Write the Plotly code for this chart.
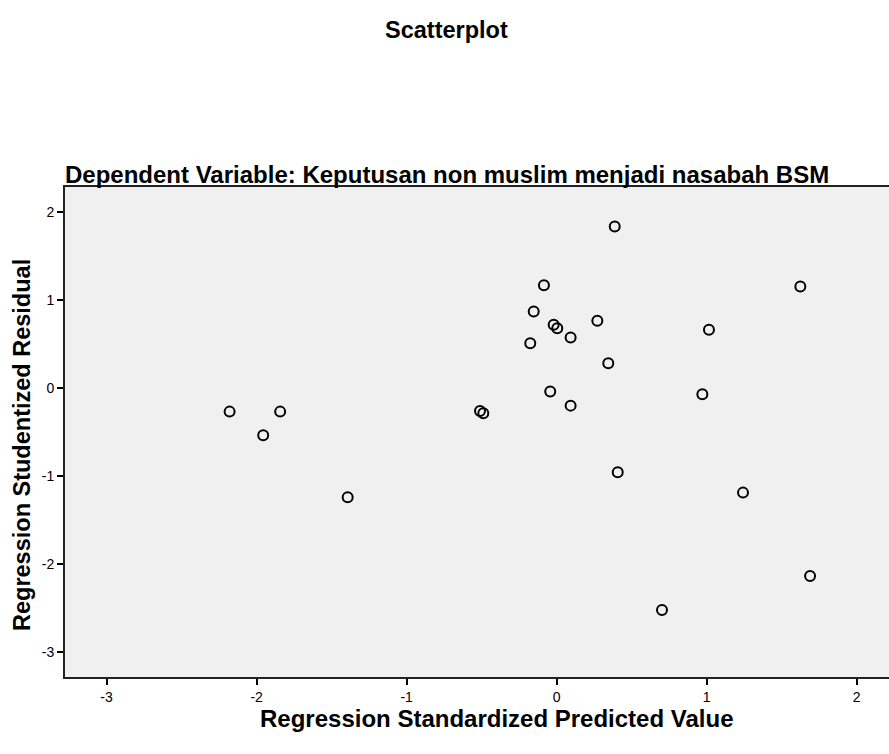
import plotly.graph_objects as go

predicted = [0.387, -0.085, -0.153, -0.020, 0.004, 0.271, 0.093, -0.176, 0.344,
             -0.043, 0.093, -0.511, -0.489, -2.180, -1.843, -1.956, -1.393,
             0.407, 0.702, 1.624, 1.015, 0.971, 1.242, 1.689]
residual = [1.836, 1.170, 0.870, 0.720, 0.680, 0.765, 0.575, 0.511, 0.284,
            -0.038, -0.198, -0.258, -0.284, -0.266, -0.266, -0.534, -1.239,
            -0.955, -2.519, 1.155, 0.663, -0.068, -1.186, -2.133]
tick_vals = [-3, -2, -1, 0, 1, 2]
tick_text = ["-3", "-2", "-1", "0", "1", "2"]

FONT = "Liberation Sans, Arial, sans-serif"

fig = go.Figure()
fig.add_trace(go.Scatter(
    x=predicted, y=residual, mode="markers",
    marker=dict(symbol="circle-open", size=10, color="black",
                line=dict(width=2, color="black")),
    showlegend=False, hoverinfo="x+y"))

fig.update_layout(
    width=889, height=754,
    margin=dict(l=65, r=0, t=187, b=77),
    paper_bgcolor="white", plot_bgcolor="#f0f0f0",
    font=dict(family=FONT, color="black"),
    xaxis=dict(range=[-3.277, 2.215], tickvals=tick_vals, ticktext=tick_text,
               ticks="outside", ticklen=6, tickwidth=2, tickcolor="black",
               showline=True, linecolor="#222", linewidth=2, mirror=True,
               showgrid=False, zeroline=False,
               tickfont=dict(size=14, family=FONT, color="black")),
    yaxis=dict(range=[-3.28, 2.285], tickvals=tick_vals, ticktext=tick_text,
               ticks="outside", ticklen=6, tickwidth=2, tickcolor="black",
               showline=True, linecolor="#222", linewidth=2, mirror=False,
               showgrid=False, zeroline=False,
               tickfont=dict(size=14, family=FONT, color="black")),
    annotations=[
        dict(text="<b>Scatterplot</b>", xref="paper", yref="paper",
             x=(446 - 65) / 824, y=1 + (187 - 30) / 490, xanchor="center", yanchor="middle",
             showarrow=False, font=dict(size=23.5, family=FONT)),
        dict(text="<b>Dependent Variable: Keputusan non muslim menjadi nasabah BSM</b>",
             xref="paper", yref="paper",
             x=(447 - 65) / 824, y=1 + (187 - 175) / 490, xanchor="center", yanchor="middle",
             showarrow=False, font=dict(size=24, family=FONT)),
        dict(text="<b>Regression Standardized Predicted Value</b>",
             xref="paper", yref="paper",
             x=(496 - 65) / 824, y=-(718 - 677) / 490, xanchor="center", yanchor="middle",
             showarrow=False, font=dict(size=24, family=FONT)),
        dict(text="<b>Regression Studentized Residual</b>",
             xref="paper", yref="paper", textangle=-90,
             x=-(65 - 22) / 824, y=(677 - 445) / 490, xanchor="center", yanchor="middle",
             showarrow=False, font=dict(size=23.5, family=FONT)),
    ],
)

fig.write_html("out.html", config={"displayModeBar": False},
               post_script="document.body.style.margin='0';document.body.style.overflow='hidden';")
